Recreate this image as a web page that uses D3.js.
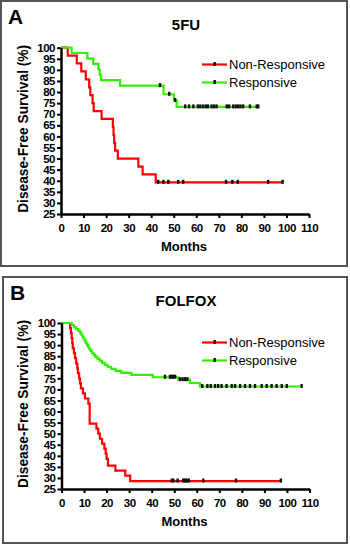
<!DOCTYPE html>
<html>
<head>
<meta charset="utf-8">
<script src="https://cdn.jsdelivr.net/npm/d3@7"></script>
<style>
body { margin: 0; background: #fff; }
svg { display: block; font-family: "Liberation Sans", Arial, sans-serif; }
</style>
</head>
<body>
<div id="chart"></div>
<script>
// tick labels
var monthTicks = d3.range(0, 111, 10)
var survTicks = d3.range(25, 101, 5)
var seriesNames = ['Non-Responsive', 'Responsive']

// Panel A - 5FU. Step points (month, survival %) and censor times
var fuNonT = [0, 3, 7, 9, 11, 12.5, 13, 14, 14.5, 18, 23, 23.3, 23.6, 24, 25.2, 34.3, 36.2, 42]
var fuNonS = [100, 96.4, 92.9, 89.3, 85.7, 82.1, 78.6, 75, 71.4, 67.9, 64.3, 60.7, 57.1, 53.6, 50, 46.4, 42.9, 39.3]
var fuNonC = [43.1, 45.4, 47.6, 52.0, 54.2, 73.2, 76.0, 78.4, 91.9, 98.3]

var fuResT = [0, 4.7, 11.7, 14.3, 16.6, 17.2, 17.7, 26.2, 45.5, 50.1, 51.3]
var fuResS = [100, 97.6, 95.1, 92.7, 90.2, 87.8, 85.4, 82.9, 79.0, 76.2, 73.3]
var fuResC = [43.9, 48.0, 50.6, 55.1, 56.8, 58.7, 60.7, 61.8, 63.1, 64.3, 65.2, 66.8, 67.9, 69.0,
              73.5, 74.6, 76.4, 77.5, 78.6, 79.6, 80.8, 83.8, 86.8, 87.5]

// Panel B - FOLFOX
var foNonT = [0, 3.8, 4.2, 4.5, 4.8, 5.0, 5.5, 6.0, 6.5, 7.0, 7.3, 7.8, 8.2, 8.6, 9.5, 10.4, 11.9, 12.5,
              15.5, 16.3, 17.0, 18.0, 19.0, 19.6, 20.0, 20.6, 23.9, 28.3, 30.5]
var foNonS = [100, 97.7, 95.5, 93.2, 90.9, 88.6, 86.4, 84.1, 81.8, 79.5, 77.3, 75.0, 72.7, 70.5, 68.2, 65.9, 63.6, 54.5,
              52.3, 50.0, 47.7, 45.5, 43.2, 40.9, 38.6, 35.6, 33.3, 31.0, 28.6]
var foNonC = [48.9, 49.6, 51.5, 54.0, 54.8, 55.5, 56.5, 62.9, 77.4, 97.3]

var foResT = [0, 4.5, 5.5, 6.5, 7.5, 8.3, 8.8, 9.3, 9.8, 10.3, 10.8, 11.3, 11.8, 12.3, 12.8, 13.5, 14.3, 15.0,
              16.0, 17.0, 18.0, 19.2, 20.5, 22.0, 24.0, 26.5, 31.0, 40.5, 51.8, 57.0, 61.4]
var foResS = [100, 99.1, 98.2, 97.3, 96.4, 95.5, 94.6, 93.7, 92.8, 91.9, 91.0, 90.1, 89.2, 88.3, 87.4, 86.5, 85.6, 84.7,
              83.8, 82.9, 82.0, 81.1, 80.2, 79.3, 78.4, 77.5, 76.6, 75.5, 74.4, 72.9, 71.3]
var foResC = [45.9, 48.1, 48.9, 49.6, 50.4, 52.5, 53.7, 54.8, 55.8, 62.4, 64.7, 66.2, 68.1, 69.5, 71.0, 73.2,
              75.5, 77.0, 79.2, 81.4, 83.6, 85.8, 88.8, 91.0, 93.2, 95.4, 97.7, 99.9, 106.5]

var colors = {'Non-Responsive': '#ff0000', 'Responsive': '#33f000'}

var svg = d3.select('#chart').append('svg')
    .attr('width', 350)
    .attr('height', 546)

var panels = [
  {label: 'A', title: '5FU', box: [1, 1, 346, 265], left: 61, right: 309, top: 47.7, bottom: 214, legY: 64.5,
   series: [[fuNonT, fuNonS, fuNonC], [fuResT, fuResS, fuResC]]},
  {label: 'B', title: 'FOLFOX', box: [3, 277, 344, 266], left: 61.5, right: 309.5, top: 323, bottom: 489, legY: 342.5,
   series: [[foNonT, foNonS, foNonC], [foResT, foResS, foResC]]}
]

panels.forEach(p => {
  var g = svg.append('g')

  g.append('rect')
    .attr('x', p.box[0]).attr('y', p.box[1])
    .attr('width', p.box[2]).attr('height', p.box[3])
    .attr('fill', '#fff').attr('stroke', '#555').attr('stroke-width', 2)

  var x = d3.scaleLinear().domain([0, 110]).range([p.left, p.right])
  var y = d3.scaleLinear().domain([25, 100]).range([p.bottom, p.top])

  // panel letter + title
  g.append('text')
    .attr('x', p.box[0] + 7).attr('y', p.box[1] + 23)
    .style('font-size', '21px').style('font-weight', 'bold')
    .text(p.label)
  g.append('text')
    .attr('x', 186).attr('y', p.box[1] + 29)
    .attr('text-anchor', 'middle')
    .style('font-size', '15px').style('font-weight', 'bold')
    .text(p.title)

  // curves
  var line = d3.line().x(d => x(d[0])).y(d => y(d[1])).curve(d3.curveStepAfter)
  p.series.forEach((s, i) => {
    var t = s[0], v = s[1], c = s[2]
    var pts = t.map((d, j) => [d, v[j]])
    pts.push([d3.max([d3.max(c), t[t.length - 1]]), v[v.length - 1]])
    g.append('path')
      .datum(pts)
      .attr('fill', 'none')
      .attr('stroke', colors[seriesNames[i]])
      .attr('stroke-width', 2.2)
      .attr('d', line)

    // censor ticks
    g.selectAll('.cens' + i)
      .data(c)
      .enter().append('rect')
      .attr('x', d => x(d) - 1.2)
      .attr('y', d => y(v[d3.bisectRight(t, d) - 1]) - 2.5)
      .attr('width', 2.4)
      .attr('height', 4)
      .attr('fill', '#111')
  })

  // axes
  var xAxis = g.append('g')
    .attr('transform', 'translate(0,' + p.bottom + ')')
    .call(d3.axisBottom(x).tickValues(monthTicks).tickSize(4).tickSizeOuter(0).tickPadding(6))
  var yAxis = g.append('g')
    .attr('transform', 'translate(' + p.left + ',0)')
    .call(d3.axisLeft(y).tickValues(survTicks).tickSize(4).tickSizeOuter(0).tickPadding(2))
  ;[xAxis, yAxis].forEach(a => {
    a.select('.domain').attr('stroke', '#000').attr('stroke-width', 2.5)
    a.selectAll('.tick line').attr('stroke', '#000').attr('stroke-width', 2)
    a.selectAll('.tick text')
      .attr('fill', '#000')
      .style('font-size', '11.5px').style('font-weight', 'bold')
      .style('font-family', '"Liberation Sans", Arial, sans-serif')
      .style('letter-spacing', '-0.5px')
  })

  // axis labels
  g.append('text')
    .attr('x', (p.left + p.right) / 2 - 1).attr('y', p.bottom + 37)
    .attr('text-anchor', 'middle')
    .style('font-size', '13px').style('font-weight', 'bold')
    .text('Months')
  g.append('text')
    .attr('transform', 'translate(28,' + ((p.top + p.bottom) / 2 - 2) + ') rotate(-90)')
    .attr('text-anchor', 'middle')
    .attr('textLength', 168)
    .attr('lengthAdjust', 'spacingAndGlyphs')
    .style('font-size', '14px').style('font-weight', 'bold')
    .text('Disease-Free Survival (%)')

  // legend
  seriesNames.forEach((name, i) => {
    var ly = p.legY + i * 18
    g.append('line')
      .attr('x1', 202).attr('x2', 227).attr('y1', ly).attr('y2', ly)
      .attr('stroke', colors[name]).attr('stroke-width', 2.2)
    g.append('rect')
      .attr('x', 213.5).attr('y', ly - 2.5).attr('width', 2.4).attr('height', 4)
      .attr('fill', '#111')
    g.append('text')
      .attr('x', 229).attr('y', ly + 4.5)
      .style('font-size', '13px')
      .text(name)
  })
})
</script>
</body>
</html>
